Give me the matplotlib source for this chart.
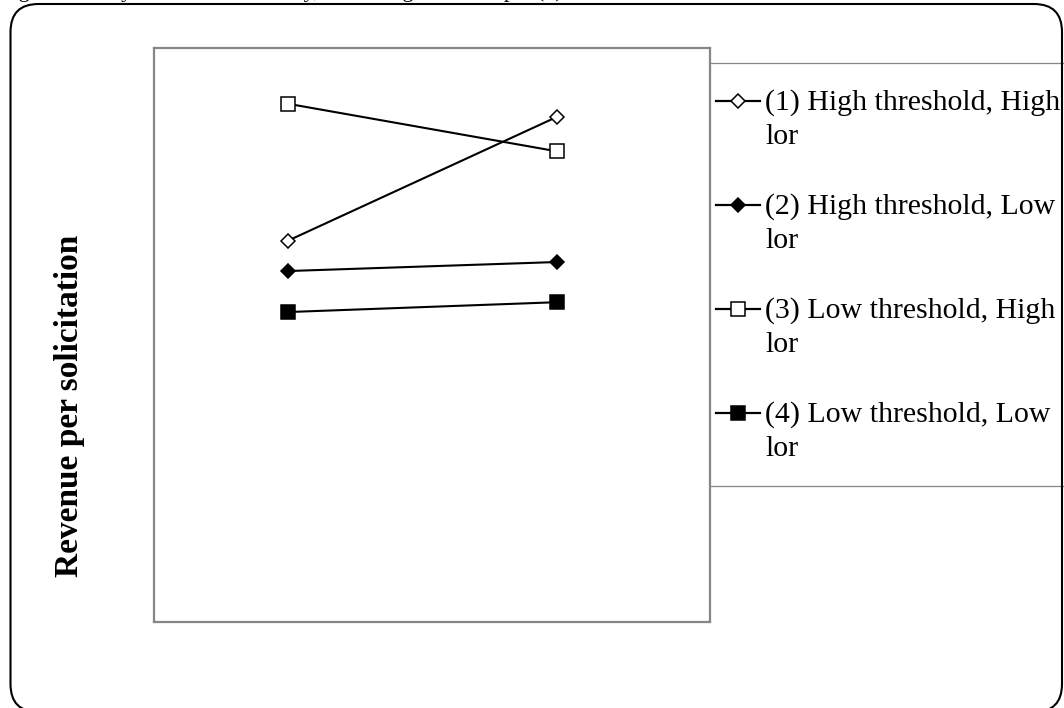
import matplotlib
matplotlib.use("Agg")
import matplotlib.pyplot as plt
from matplotlib.patches import FancyBboxPatch
from matplotlib.transforms import IdentityTransform

plt.rcParams['font.family'] = ['Liberation Serif', 'DejaVu Serif']

# data (arbitrary revenue units, axis has no ticks)
x_pos = [1, 2]
labels = ["(1) High threshold, High\nlor",
          "(2) High threshold, Low\nlor",
          "(3) Low threshold, High\nlor",
          "(4) Low threshold, Low\nlor"]
s1 = [4.65, 6.16]
s2 = [4.28, 4.39]
s3 = [6.32, 5.74]
s4 = [3.78, 3.90]
series = [s1, s2, s3, s4]

markers = ['D', 'D', 's', 's']
faces = ['white', 'black', 'white', 'black']
msizes = [6.8, 7.2, 9.4, 10.2]

W, H = 1064, 708
fig = plt.figure(figsize=(W / 100, H / 100), dpi=100)

# outer rounded frame
frame = FancyBboxPatch((10.5, -4), 1051.5, 708, boxstyle="round,pad=0,rounding_size=28",
                       transform=IdentityTransform(), fill=False, ec='black', lw=1.5)
fig.add_artist(frame)

# caption cut off at the top edge, as in the original
fig.text(-0.5 / W, 1 + 3.5 / H, "Figure 1 Study results in the lottery, for each gender sample (n)",
         fontsize=16, va='baseline', ha='left')

ax = fig.add_axes([154 / W, (H - 622) / H, 556 / W, 574 / H])
for vals, m, fc, ms in zip(series, markers, faces, msizes):
    ax.plot(x_pos, vals, color='black', lw=1.5, marker=m, ms=ms, mfc=fc, mec='black', mew=1.1)
ax.set_xlim(0.502, 2.569)
ax.set_ylim(0, 7)
ax.set_xticks([])
ax.set_yticks([])
for sp in ax.spines.values():
    sp.set_color('#868686')
    sp.set_linewidth(1.6)

fig.text(70 / W, 1 - 406 / H, "Revenue per solicitation", rotation=90, fontsize=24,
         fontweight='bold', ha='center', va='center')

# legend box (extends past right edge, as in the original)
lg = fig.add_axes([710 / W, (H - 486) / H, 420 / W, 423 / H])
lg.set_xlim(0, 420)
lg.set_ylim(423, 0)
lg.set_xticks([])
lg.set_yticks([])
for sp in lg.spines.values():
    sp.set_color('#868686')
    sp.set_linewidth(0.9)
for i, (lab, m, fc, ms) in enumerate(zip(labels, markers, faces, msizes)):
    yc = 38 + 104 * i
    lg.plot([6, 50], [yc, yc], color='black', lw=1.6, clip_on=False)
    lg.plot([28], [yc], color='black', marker=m, ms=ms, mfc=fc, mec='black', mew=1.1, clip_on=False)
    lg.text(55, yc + 19, lab, fontsize=21.5, va='center', ha='left', linespacing=1.4)

fig.savefig("out.png", dpi=100)
